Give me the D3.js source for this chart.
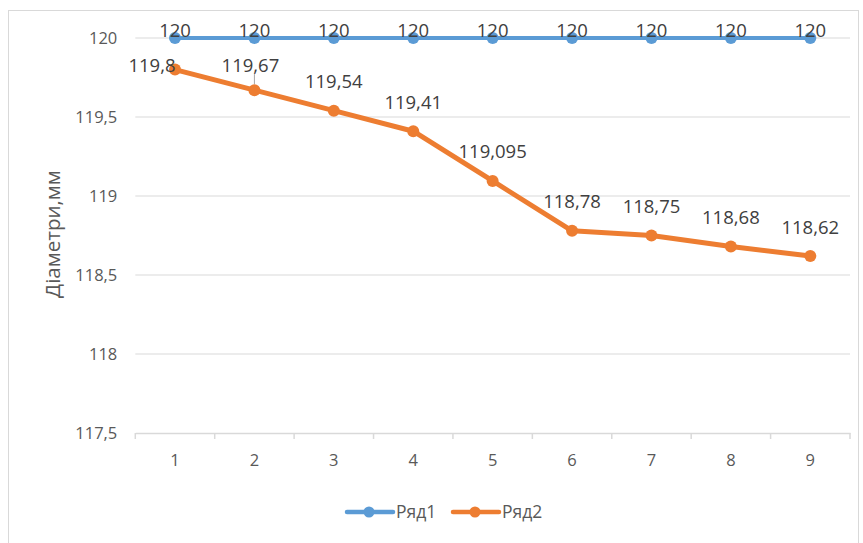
<!DOCTYPE html>
<html><head><meta charset="utf-8">
<script src="https://cdnjs.cloudflare.com/ajax/libs/d3/7.8.5/d3.min.js"></script>
<style>body{margin:0;background:#fff;} text{font-family:"Open Sans","Noto Sans",sans-serif;}</style>
</head><body>
<svg id="c" width="863" height="543"></svg>
<script>
const categories = [1,2,3,4,5,6,7,8,9];
const series1 = [120,120,120,120,120,120,120,120,120];
const series2 = [119.8,119.67,119.54,119.41,119.095,118.78,118.75,118.68,118.62];
const seriesNames = ["Ряд1","Ряд2"];
const yTicks = [117.5,118,118.5,119,119.5,120];
const yTitle = "Діаметри,мм";

const svg = d3.select("#c");
const colors = ["#5B9BD5","#ED7D31"];
const fmt = v => String(v).replace(".", ",");

svg.append("rect").attr("x",8.5).attr("y",10.5).attr("width",850).attr("height",560)
  .attr("fill","#fff").attr("stroke","#d9d9d9");

const x = d3.scaleBand().domain(categories).range([135.3,850]);
const y = d3.scaleLinear().domain([117.5,120]).range([433,38]);

// gridlines
svg.append("g").selectAll("line").data(yTicks.filter(t=>t>117.5)).join("line")
  .attr("x1",135.3).attr("x2",850).attr("y1",d=>y(d)).attr("y2",d=>y(d))
  .attr("stroke","#d9d9d9").attr("stroke-width",1.2);

// y axis labels
const ya = svg.append("g").attr("transform","translate(135.3,0)")
  .call(d3.axisLeft(y).tickValues(yTicks).tickFormat(fmt).tickSize(0).tickPadding(18));
ya.select(".domain").remove();
ya.selectAll("text").attr("font-size",16.5).attr("fill","#595959");

// x axis
const xa = svg.append("g").attr("transform","translate(0,433)")
  .call(d3.axisBottom(x).tickSize(0).tickPadding(21));
xa.select(".domain").attr("stroke","#d9d9d9").attr("stroke-width",1.5);
xa.selectAll("text").attr("font-size",16.5).attr("fill","#595959");
const bounds = categories.map(c=>x(c)).concat([x(categories[categories.length-1])+x.bandwidth()]);
svg.append("g").selectAll("line").data(bounds).join("line")
  .attr("x1",d=>d).attr("x2",d=>d).attr("y1",433).attr("y2",439)
  .attr("stroke","#d9d9d9").attr("stroke-width",1.5);

// y title
svg.append("text").attr("transform","translate(60,234) rotate(-90)")
  .attr("text-anchor","middle").attr("font-size",20.5).attr("fill","#595959").text(yTitle);

const cx = c => x(c) + x.bandwidth()/2;
const line = d3.line().x((d,i)=>cx(categories[i])).y(d=>y(d));
const widths = [4,5];
[series1, series2].forEach((s,k)=>{
  svg.append("path").datum(s).attr("d",line).attr("fill","none")
    .attr("stroke",colors[k]).attr("stroke-width",widths[k]).attr("stroke-linejoin","round");
  svg.append("g").selectAll("circle").data(s).join("circle")
    .attr("cx",(d,i)=>cx(categories[i])).attr("cy",d=>y(d)).attr("r",6)
    .attr("fill",colors[k]);
});

// leader line for second label
svg.append("line").attr("x1",cx(2)).attr("x2",cx(2)).attr("y1",y(series2[1])-16).attr("y2",y(series2[1])-6)
  .attr("stroke","#a6a6a6").attr("stroke-width",1);

// data labels
svg.append("g").selectAll("text").data(series1).join("text")
  .attr("x",(d,i)=>cx(categories[i])).attr("y",d=>y(d)-1)
  .attr("text-anchor","middle").attr("font-size",18.5).attr("fill","#404040").text(fmt);
svg.append("g").selectAll("text").data(series2).join("text")
  .attr("x",(d,i)=>cx(categories[i]) + (i===0?-23:(i===1?-4:0)))
  .attr("y",(d,i)=>i===0?y(d)+2:(i===1?y(d)-18.5:y(d)-22.5))
  .attr("text-anchor","middle").attr("font-size",18.5).attr("fill","#404040").text(fmt);

// legend
const leg = svg.append("g");
const lx = [347,453];
seriesNames.forEach((n,k)=>{
  leg.append("line").attr("x1",lx[k]).attr("x2",lx[k]+46).attr("y1",512).attr("y2",512)
    .attr("stroke",colors[k]).attr("stroke-width",4.5).attr("stroke-linecap","round");
  leg.append("circle").attr("cx",lx[k]+22).attr("cy",512).attr("r",5.5).attr("fill",colors[k]);
  leg.append("text").attr("x",lx[k]+49).attr("y",518).attr("font-size",17.5).attr("fill","#595959").text(n);
});
</script>
</body></html>
